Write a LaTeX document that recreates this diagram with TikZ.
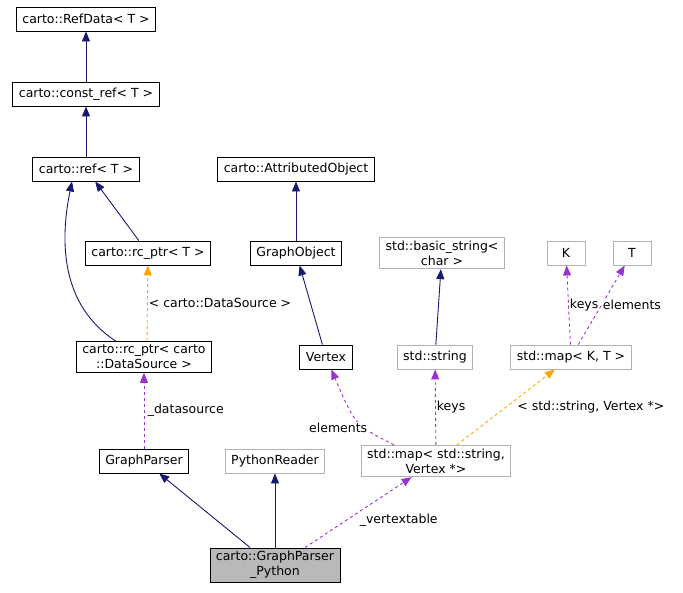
\documentclass[tikz,border=0pt]{standalone}
\usepackage{fontspec}
\setmainfont{DejaVu Sans}
\usetikzlibrary{arrows.meta,positioning}
\definecolor{navy}{HTML}{191970}
\definecolor{purp}{HTML}{9A32CD}
\definecolor{orng}{HTML}{FFA500}
\begin{document}
\begin{tikzpicture}[x=1pt,y=-1pt,font=\fontsize{12.5}{15}\selectfont,line width=0.9pt]
 \tikzset{main node/.style={rectangle, draw, fill=white, align=center,
 		minimum height=24pt, minimum width=38pt, inner xsep=6pt}, }
 \tikzset{ext node/.style={main node, draw=gray!60}, }
 \tikzset{linea/.style={-{Triangle[length=10pt,width=8pt]}, draw=navy},}
 \tikzset{usa/.style={-{Triangle[length=10pt,width=8pt]}, draw=purp, dashed},}
 \tikzset{tmpl/.style={-{Triangle[length=10pt,width=8pt]}, draw=orng, dashed},}
 \useasboundingbox (0,0) rectangle (683,592);
 \node[main node] (refdata) at (86,19) {carto::RefData< T >};
 \node[main node] (constref) at (86,94) {carto::const\_ref< T >};
 \node[main node] (ref) at (86,169) {carto::ref< T >};
 \node[main node] (rcptr) at (148,253) {carto::rc\_ptr< T >};
 \node[main node] (rcds) at (144,357) {carto::rc\_ptr< carto\\::DataSource >};
 \node[main node] (parser) at (144,461) {GraphParser};
 \node[ext node] (reader) at (275,461) {PythonReader};
 \node[main node, fill=gray!55] (python) at (275,565) {carto::GraphParser\\\_Python};
 \node[main node] (attr) at (296,169) {carto::AttributedObject};
 \node[main node] (gobj) at (296,253) {GraphObject};
 \node[main node] (vertex) at (326,357) {Vertex};
 \node[ext node] (bstring) at (442,253) {std::basic\_string<\\char >};
 \node[ext node] (string) at (435,357) {std::string};
 \node[ext node] (k) at (566,253) {K};
 \node[ext node] (t) at (632,253) {T};
 \node[ext node] (mapkt) at (571,357) {std::map< K, T >};
 \node[ext node] (mapsv) at (436,461) {std::map< std::string,\\Vertex *>};
 %%
 \foreach \x /\y in {constref/refdata,ref/constref,gobj/attr,string/bstring,rcptr/ref,vertex/gobj,python/reader}
 \draw[linea] (\x) -- (\y);
 \draw[linea] ([xshift=-28pt]rcds.north) .. controls (60,305) and (60,240) .. ([xshift=-14pt]ref.south);
 \draw[linea] ([xshift=-25pt]python.north) -- (parser);
 \draw[tmpl] ([xshift=3pt]rcds.north) -- (rcptr) node[midway, right, fill=white, inner sep=1pt] {< carto::DataSource >};
 \draw[usa] (parser) -- (rcds) node[midway, right] {\_datasource};
 \draw[usa] ([xshift=-42pt]mapsv.north) .. controls (355,425) .. (vertex) node[pos=0.35, fill=white, inner sep=1pt, left=-4pt] {elements};
 \draw[usa] (mapsv) -- (string) node[midway, right, fill=white, inner sep=1pt] {keys};
 \draw[tmpl] (mapsv) -- (mapkt) node[pos=0.5, right=10pt, fill=white, inner sep=1pt] {< std::string, Vertex *>};
 \draw[usa] (mapkt) -- (k) node[midway, right, fill=white, inner sep=1pt] {keys};
 \draw[usa] (mapkt) -- (t) node[midway, right, fill=white, inner sep=1pt] {elements};
 \draw[usa] ([xshift=30pt]python.north) -- (mapsv) node[midway, below right, fill=white, inner sep=1pt] {\_vertextable};
\end{tikzpicture}
\end{document}
